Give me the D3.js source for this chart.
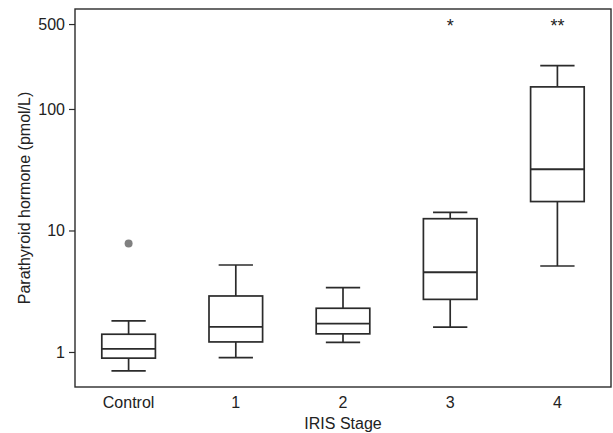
<!DOCTYPE html>
<html>
<head>
<meta charset="utf-8">
<script src="https://cdn.jsdelivr.net/npm/d3@7"></script>
<style>
  body { margin: 0; background: #fff; }
  svg text { font-family: "Liberation Sans", Arial, sans-serif; fill: #222; }
</style>
</head>
<body>
<div id="chart"></div>
<script>
// box plot summaries (pmol/L)
const categories = ["Control", "1", "2", "3", "4"];
const whiskerLow = [0.70, 0.90, 1.20, 1.60, 5.1];
const q1 = [0.89, 1.21, 1.41, 2.71, 17.3];
const median = [1.06, 1.61, 1.71, 4.53, 31.9];
const q3 = [1.40, 2.89, 2.29, 12.5, 152];
const whiskerHigh = [1.80, 5.2, 3.38, 14.1, 227];
const outliers = [[7.8], [], [], [], []];
const sigLabels = ["", "", "", "*", "**"];
const yTicks = [1, 10, 100, 500];

const width = 613, height = 433;
const margin = { top: 9, right: 2, bottom: 46, left: 75 };

const svg = d3.select("#chart").append("svg")
    .attr("width", width)
    .attr("height", height);

const x = d3.scaleBand()
    .domain(categories)
    .range([margin.left, width - margin.right])
    .paddingInner(0.5)
    .paddingOuter(0.25);

const y = d3.scaleLog()
    .domain([0.515, 665])
    .range([height - margin.bottom, margin.top]);

const boxes = categories.map((c, i) => ({
    cat: c, lo: whiskerLow[i], q1: q1[i], med: median[i], q3: q3[i],
    hi: whiskerHigh[i], out: outliers[i], sig: sigLabels[i]
}));

const stroke = "#2b2b2b";
const capW = x.bandwidth() * 0.64;

// y axis
const yAxis = svg.append("g")
    .attr("transform", `translate(${margin.left},0)`)
    .call(d3.axisLeft(y).tickValues(yTicks).tickFormat(d3.format("d")).tickSize(6).tickPadding(4));
yAxis.select(".domain").remove();
yAxis.selectAll("line").attr("stroke", stroke).attr("stroke-width", 1.2);
yAxis.selectAll("text").style("font-size", "16px").attr("fill", "#222");

// x axis
const xAxis = svg.append("g")
    .attr("transform", `translate(0,${height - margin.bottom})`)
    .call(d3.axisBottom(x).tickSize(0).tickPadding(10));
xAxis.select(".domain").remove();
xAxis.selectAll("text").style("font-size", "16px").attr("fill", "#222");

// frame
svg.append("rect")
    .attr("x", margin.left)
    .attr("y", margin.top)
    .attr("width", width - margin.left - margin.right)
    .attr("height", height - margin.top - margin.bottom)
    .attr("fill", "none")
    .attr("stroke", stroke)
    .attr("stroke-width", 1.4);

const g = svg.append("g").selectAll("g")
    .data(boxes)
    .join("g")
    .attr("transform", d => `translate(${x(d.cat) + x.bandwidth() / 2},0)`);

// whisker stems
g.append("line")
    .attr("y1", d => y(d.hi)).attr("y2", d => y(d.q3))
    .attr("stroke", stroke).attr("stroke-width", 1.7);
g.append("line")
    .attr("y1", d => y(d.q1)).attr("y2", d => y(d.lo))
    .attr("stroke", stroke).attr("stroke-width", 1.7);

// caps
g.append("line")
    .attr("x1", -capW / 2).attr("x2", capW / 2)
    .attr("y1", d => y(d.hi)).attr("y2", d => y(d.hi))
    .attr("stroke", stroke).attr("stroke-width", 1.7);
g.append("line")
    .attr("x1", -capW / 2).attr("x2", capW / 2)
    .attr("y1", d => y(d.lo)).attr("y2", d => y(d.lo))
    .attr("stroke", stroke).attr("stroke-width", 1.7);

// box
g.append("rect")
    .attr("x", -x.bandwidth() / 2)
    .attr("width", x.bandwidth())
    .attr("y", d => y(d.q3))
    .attr("height", d => y(d.q1) - y(d.q3))
    .attr("fill", "#fff")
    .attr("stroke", stroke).attr("stroke-width", 1.7);

// median
g.append("line")
    .attr("x1", -x.bandwidth() / 2).attr("x2", x.bandwidth() / 2)
    .attr("y1", d => y(d.med)).attr("y2", d => y(d.med))
    .attr("stroke", stroke).attr("stroke-width", 1.9);

// outliers
g.selectAll("circle")
    .data(d => d.out)
    .join("circle")
    .attr("cy", v => y(v))
    .attr("r", 4)
    .attr("fill", "#808080");

// significance marks
g.append("text")
    .attr("y", y(500) + 8)
    .attr("text-anchor", "middle")
    .style("font-size", "18px")
    .text(d => d.sig);

// axis titles
svg.append("text")
    .attr("x", (margin.left + width - margin.right) / 2)
    .attr("y", 429)
    .attr("text-anchor", "middle")
    .style("font-size", "16px")
    .text("IRIS Stage");

svg.append("text")
    .attr("transform", `translate(30,${(margin.top + height - margin.bottom) / 2}) rotate(-90)`)
    .attr("text-anchor", "middle")
    .style("font-size", "16px")
    .text("Parathyroid hormone (pmol/L)");
</script>
</body>
</html>
